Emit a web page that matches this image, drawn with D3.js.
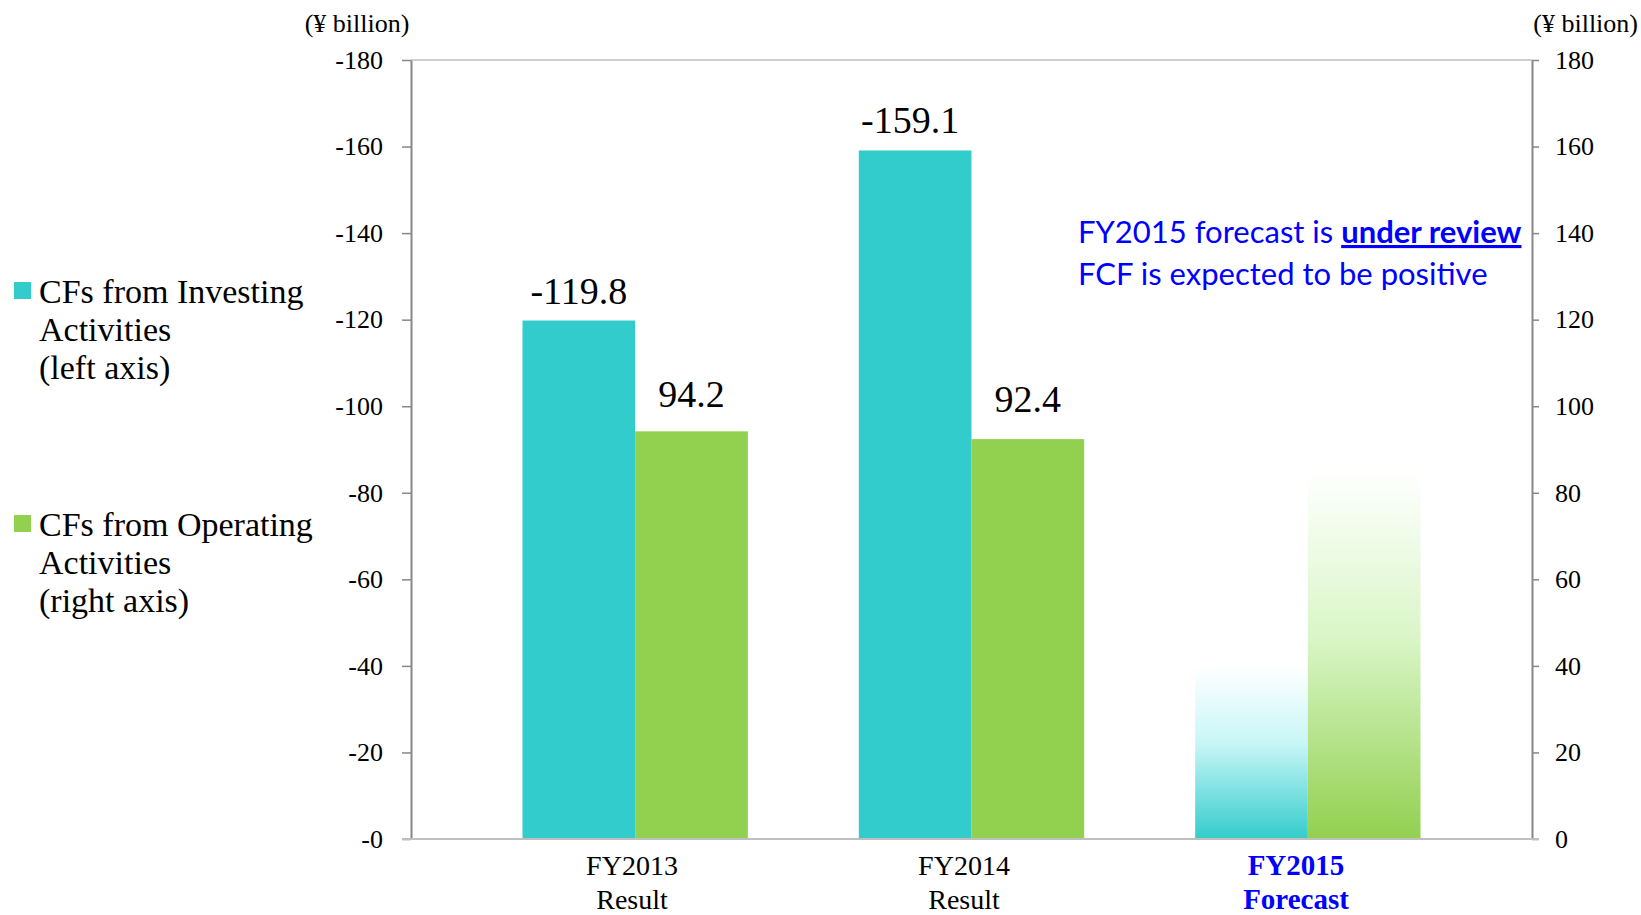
<!DOCTYPE html>
<html>
<head>
<meta charset="utf-8">
<script src="https://cdn.jsdelivr.net/npm/d3@7"></script>
<style>
  html, body { margin: 0; padding: 0; background: #fff; }
  svg { display: block; }
  .serif { font-family: "Liberation Serif", "Times New Roman", serif; fill: #000; }
</style>
</head>
<body>
<svg id="chart" width="1641" height="915"></svg>
<script>
// values (yen billion)
var categories = ["FY2013", "FY2014", "FY2015"];
var categorySub = ["Result", "Result", "Forecast"];
var isForecast = [false, false, true];
var investing = [-119.8, -159.1, -40];   // left axis, FY2015 is a placeholder shape
var operating = [94.2, 92.4, 85];        // right axis
var yTicks = [0, 20, 40, 60, 80, 100, 120, 140, 160, 180];
var legendItems = [
  { color: "#33CCCC", lines: ["CFs from Investing", "Activities", "(left axis)"] },
  { color: "#92D050", lines: ["CFs from Operating", "Activities", "(right axis)"] }
];

(function () {
  var svg = d3.select("#chart");
  var plotLeft = 411, plotRight = 1532, plotTop = 60, plotBottom = 839;

  var x = d3.scaleBand().domain(categories).range([467, 1476]).paddingInner(0.33).paddingOuter(0.165);
  var sub = d3.scaleBand().domain(["inv", "op"]).range([0, x.bandwidth()]);
  var xLabel = d3.scalePoint().domain(categories).range([632, 1296]);
  var yL = d3.scaleLinear().domain([0, 180]).range([plotBottom, plotTop]);
  var yR = d3.scaleLinear().domain([0, 180]).range([plotBottom, plotTop]);

  // gradients for forecast bars
  var defs = svg.append("defs");
  function grad(id, mid, end) {
    var g = defs.append("linearGradient").attr("id", id).attr("x1", 0).attr("y1", 0).attr("x2", 0).attr("y2", 1);
    g.append("stop").attr("offset", "0").attr("stop-color", "#ffffff");
    g.append("stop").attr("offset", "0.45").attr("stop-color", mid);
    g.append("stop").attr("offset", "1").attr("stop-color", end);
  }
  grad("gInv", "#c8f6f6", "#33CCCC");
  grad("gOp", "#daf6c8", "#92D050");

  // top frame line
  svg.append("line").attr("x1", plotLeft).attr("x2", plotRight).attr("y1", plotTop).attr("y2", plotTop)
    .attr("stroke", "#bfbfbf").attr("stroke-width", 1.5);

  var axL = svg.append("g").attr("transform", "translate(" + plotLeft + ",0)")
    .call(d3.axisLeft(yL).tickValues(yTicks).tickSize(9).tickSizeOuter(0).tickFormat(function (d) { return "-" + d; }));
  var axR = svg.append("g").attr("transform", "translate(" + plotRight + ",0)")
    .call(d3.axisRight(yR).tickValues(yTicks).tickSize(7).tickSizeOuter(0).tickFormat(function (d) { return d; }));

  [axL, axR].forEach(function (ax) {
    ax.attr("font-family", null).attr("font-size", null);
    ax.select(".domain").attr("stroke", "#878787").attr("stroke-width", 2);
    ax.selectAll(".tick line").attr("stroke", "#878787").attr("stroke-width", 1.5);
    ax.selectAll(".tick text").attr("class", "serif").attr("font-size", 26).attr("fill", "#000");
  });
  axL.selectAll(".tick text").attr("x", -28);
  axR.selectAll(".tick text").attr("x", 23);

  // bars
  var groups = svg.append("g").selectAll("g").data(categories).join("g")
    .attr("transform", function (d) { return "translate(" + x(d) + ",0)"; });

  groups.append("rect")
    .attr("x", sub("inv")).attr("width", sub.bandwidth())
    .attr("y", function (d, i) { return yL(Math.abs(investing[i])); })
    .attr("height", function (d, i) { return plotBottom - yL(Math.abs(investing[i])); })
    .attr("fill", function (d, i) { return isForecast[i] ? "url(#gInv)" : "#33CCCC"; });

  groups.append("rect")
    .attr("x", sub("op")).attr("width", sub.bandwidth())
    .attr("y", function (d, i) { return yR(operating[i]); })
    .attr("height", function (d, i) { return plotBottom - yR(operating[i]); })
    .attr("fill", function (d, i) { return isForecast[i] ? "url(#gOp)" : "#92D050"; });

  // baseline
  svg.append("line").attr("x1", plotLeft - 9).attr("x2", plotRight + 7).attr("y1", plotBottom).attr("y2", plotBottom)
    .attr("stroke", "#bfbfbf").attr("stroke-width", 2);

  // value labels (results only)
  groups.each(function (d, i) {
    if (isForecast[i]) return;
    var g = d3.select(this);
    g.append("text").attr("class", "serif").attr("font-size", 38).attr("text-anchor", "middle")
      .attr("x", sub("inv") + sub.bandwidth() / 2 - (i === 1 ? 5 : 0)).attr("y", yL(Math.abs(investing[i])) - 17)
      .text(investing[i].toFixed(1));
    g.append("text").attr("class", "serif").attr("font-size", 38).attr("text-anchor", "middle")
      .attr("x", sub("op") + sub.bandwidth() / 2).attr("y", yR(operating[i]) - (i === 1 ? 27 : 24))
      .text(operating[i].toFixed(1));
  });

  // category labels
  categories.forEach(function (c, i) {
    [c, categorySub[i]].forEach(function (txt, j) {
      svg.append("text").attr("class", "serif").attr("font-size", isForecast[i] ? 29 : 28).attr("text-anchor", "middle")
        .attr("x", xLabel(c)).attr("y", j ? 909 : 875)
        .style("fill", isForecast[i] ? "#0000FF" : "#000")
        .attr("font-weight", isForecast[i] ? "bold" : null)
        .text(txt);
    });
  });

  // unit labels
  svg.append("text").attr("class", "serif").attr("font-size", 26).attr("text-anchor", "middle")
    .attr("x", 357).attr("y", 32).text("(¥ billion)");
  svg.append("text").attr("class", "serif").attr("font-size", 26).attr("text-anchor", "end")
    .attr("x", 1638).attr("y", 32).text("(¥ billion)");

  // legend
  legendItems.forEach(function (item, k) {
    var y0 = [282, 515][k];
    svg.append("rect").attr("x", 14).attr("y", y0).attr("width", 17).attr("height", 17).attr("fill", item.color);
    item.lines.forEach(function (line, j) {
      svg.append("text").attr("class", "serif").attr("font-size", 34)
        .attr("x", 39).attr("y", y0 + 21 + j * 38).text(line);
    });
  });

  // annotation
  var note = svg.append("text").attr("x", 1078).attr("y", 243)
    .attr("font-family", "Lato, 'Open Sans', sans-serif").attr("font-size", 31).attr("fill", "#0000FF");
  note.append("tspan").text("FY2015 forecast is ");
  note.append("tspan").attr("font-weight", "bold").attr("text-decoration", "underline").text("under review");
  svg.append("text").attr("x", 1078).attr("y", 285)
    .attr("font-family", "Lato, 'Open Sans', sans-serif").attr("font-size", 31).attr("fill", "#0000FF")
    .text("FCF is expected to be positive");
})();
</script>
</body>
</html>
